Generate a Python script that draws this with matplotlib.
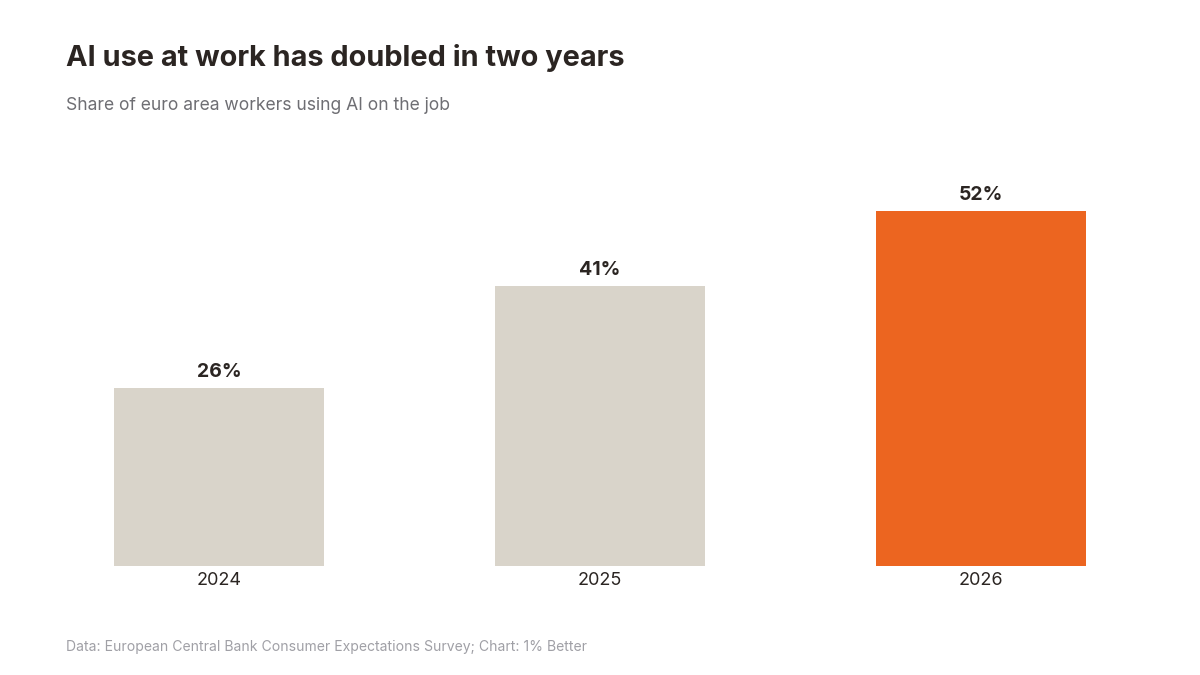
import matplotlib.pyplot as plt

years = ['2024', '2025', '2026']
share = [26, 41, 52]
bar_colors = ['#d9d4ca', '#d9d4ca', '#ec6520']

plt.rcParams['font.family'] = ['Inter', 'DejaVu Sans']

fig = plt.figure(figsize=(12, 6.75), dpi=100)
fig.patch.set_facecolor('white')

# axes placed so baseline sits at y=566px and bars are centred like the original
ax = fig.add_axes([66 / 1200, 1 - 566 / 675, 1068 / 1200, 416 / 675])
x = range(len(years))
ax.bar(x, share, width=0.55, color=bar_colors)
ax.set_xlim(-0.4016, 2.4016)
ax.set_ylim(0, 416 / 6.83)

for i, v in enumerate(share):
    ax.annotate(f'{v}%', (i, v), xytext=(0, 5), textcoords='offset points',
                ha='center', va='bottom', fontsize=14, fontweight='bold', color='#2b2522')

ax.set_xticks(list(x))
ax.set_xticklabels(years, fontsize=13, color='#2b2522')
ax.tick_params(axis='x', length=0, pad=4)
ax.set_yticks([])
for s in ax.spines.values():
    s.set_visible(False)

fig.text(66 / 1200, 1 - 58 / 675, 'AI use at work has doubled in two years',
         fontsize=20.8, fontweight='bold', color='#2b2522', va='center', ha='left')
fig.text(66 / 1200, 1 - 105 / 675, 'Share of euro area workers using AI on the job',
         fontsize=12.6, color='#6e6e73', va='center', ha='left')
fig.text(66 / 1200, 1 - 647 / 675,
         'Data: European Central Bank Consumer Expectations Survey; Chart: 1% Better',
         fontsize=10.1, color='#a0a0a6', va='center', ha='left')

fig.savefig('out.png', dpi=100)
